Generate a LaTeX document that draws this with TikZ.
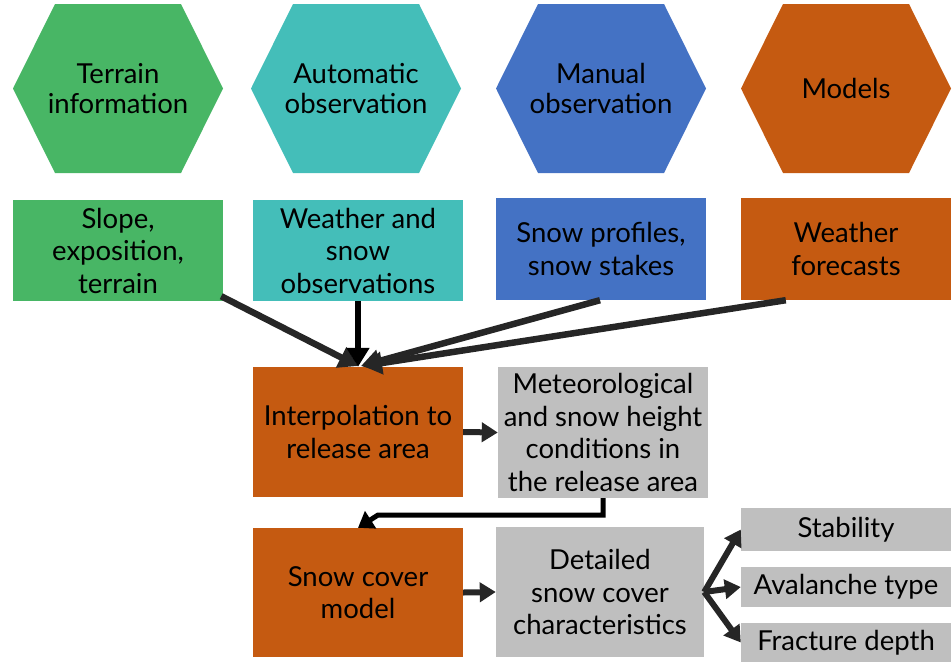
\documentclass[tikz,border=0pt]{standalone}
\usepackage{fontspec}
\setmainfont{Lato}
\usetikzlibrary{arrows.meta,calc}
\definecolor{cgreen}{HTML}{48B665}
\definecolor{cteal}{HTML}{44BEB9}
\definecolor{cblue}{HTML}{4472C4}
\definecolor{corange}{HTML}{C55A11}
\definecolor{cgray}{HTML}{BFBFBF}
\definecolor{carrow}{HTML}{262626}
\begin{document}
\begin{tikzpicture}[x=1pt,y=-1pt,
  txt/.style={font=\fontsize{27.5}{29.5}\selectfont, align=center, text=black},
  box/.style={txt, inner sep=0pt, minimum width=210pt, font=\fontsize{27.5}{32.5}\selectfont},
  arr/.style={line width=6.5pt, draw=carrow, -{Triangle[length=19pt,width=22pt]}},
  sarr/.style={line width=6pt, draw=carrow, -{Triangle[length=16pt,width=19pt]}}
]
\useasboundingbox (0,0) rectangle (952,662);
% hexagons
\foreach \n/\cx/\col in {h1/118/cgreen, h2/356/cteal, h3/601/cblue, h4/846/corange}{
  \fill[\col] (\cx-105,88.5) -- (\cx-63,4) -- (\cx+63,4) -- (\cx+105,88.5) -- (\cx+63,173) -- (\cx-63,173) -- cycle;
}
\node[txt] (h1) at (118,88.5) {Terrain\\information};
\node[txt] (h2) at (356,88.5) {Automatic\\observation};
\node[txt] (h3) at (601,88.5) {Manual\\observation};
\node[txt] (h4) at (846,88.5) {Models};
% second row
\node[box, fill=cgreen, minimum height=101pt] (r1) at (118,250.5) {Slope,\\exposition,\\terrain};
\node[box, fill=cteal, minimum height=101pt] (r2) at (358,250.5) {Weather and\\snow\\observations};
\node[box, fill=cblue, minimum height=102pt] (r3) at (601,249) {Snow profiles,\\snow stakes};
\node[box, fill=corange, minimum height=102pt] (r4) at (846,249) {Weather\\forecasts};
% middle
\node[box, fill=corange, minimum height=130pt] (interp) at (358,432) {Interpolation to\\release area};
\node[box, fill=cgray, minimum height=131pt] (meteo) at (603,432.5) {Meteorological\\and snow height\\conditions in\\the release area};
% bottom
\node[box, fill=corange, minimum height=129pt] (snow) at (358,592.5) {Snow cover\\model};
\node[box, fill=cgray, minimum width=208pt, minimum height=130pt] (det) at (600,592) {Detailed\\snow cover\\characteristics};
\node[box, fill=cgray, minimum height=43pt] (stab) at (846,529.5) {Stability};
\node[box, fill=cgray, minimum height=40pt] (aval) at (846,587) {Avalanche type};
\node[box, fill=cgray, minimum height=39pt] (frac) at (846,642.5) {Fracture depth};
% arrows
\coordinate (tip) at (358,366);
\draw[arr] ($(r1.south east)+(-2,-5)$) -- (tip);
\draw[arr, draw=black] (r2.south) -- (r2.south |- interp.north);
\draw[arr] ($(r3.south)+(-1,0)$) -- ([xshift=3pt]tip);
\draw[arr] ($(r4.south west)+(45,0)$) -- ([xshift=5pt]tip);
\draw[sarr] (interp.east) -- (meteo.west);
\coordinate (bend) at (378,515);
\draw[line width=5pt, draw=black, -{Triangle[length=15pt,width=20pt]}] (meteo.south) |- (bend) -- (snow.north);
\draw[sarr] (snow.east) -- (det.west);
\draw[sarr] (det.east) -- (stab.west);
\draw[sarr] (det.east) -- (aval.west);
\draw[sarr] (det.east) -- (frac.west);
\end{tikzpicture}
\end{document}
